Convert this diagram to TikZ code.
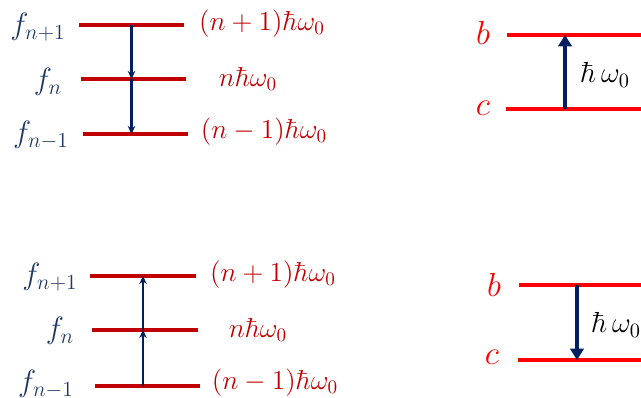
\documentclass[tikz,border=0pt]{standalone}
\usepackage{fix-cm}
\usepackage{xcolor}
\definecolor{rougeNiveau}{HTML}{C00000}
\definecolor{rougeVif}{HTML}{FF0000}
\definecolor{bleuNuit}{HTML}{002060}
\definecolor{bleuEtat}{HTML}{1F3864}
\usepackage{tikz}
\usetikzlibrary{arrows.meta, calc}
\tikzset{
  %% ── Niveaux ──────────────────────────────────────────────────────────
  niveau/.style     = {draw=rougeNiveau, line width=1.8pt},
  niveauVif/.style  = {draw=rougeVif, line width=2.3pt},
  %%
  %% ── Fleches ──────────────────────────────────────────────────────────
  saut/.style       = {-{Stealth[length=1.6mm, width=1.5mm]}, draw=bleuNuit,
                       line width=1.2pt},
  sautFort/.style   = {-{Triangle[length=2.3mm, width=2.7mm]}, draw=bleuNuit,
                       line width=1.9pt},
  %%
  %% ── Textes ───────────────────────────────────────────────────────────
  etat/.style       = {text=bleuEtat, inner sep=0pt,
                       font=\fontsize{17.5}{20}\selectfont},
  energie/.style    = {text=rougeNiveau, inner sep=0pt,
                       font=\fontsize{15.6}{18}\selectfont},
  lettre/.style     = {text=rougeVif, inner sep=0pt,
                       font=\fontsize{19}{22}\selectfont},
  quantum/.style    = {text=black, inner sep=0pt,
                       font=\fontsize{16.5}{19}\selectfont},
}

\begin{document}
\begin{tikzpicture}[x=0.02cm, y=-0.02cm]
\useasboundingbox (0,0) rectangle (641,398);

%% Echelle du haut : emission en cascade.
\foreach \nom/\xa/\xb/\y in {hA/79/184/25, hB/81/186/79, hC/83/188/134}{
  \coordinate (\nom g) at (\xa, \y);
  \coordinate (\nom d) at (\xb, \y);
  \draw[niveau] (\nom g) -- (\nom d);
}
\coordinate (hAm) at ($(hAg)!0.5!(hAd)$);
\coordinate (hBm) at (hAm |- hBg);
\coordinate (hCm) at (hAm |- hCg);
\draw[saut] (hAm) -- (hBm);
\draw[saut] (hBm) -- (hCm);

\node[etat] (fhA) at (38, 27) {$f_{n+1}$};
\node[etat] (fhB) at (48, 82) {$f_n$};
\node[etat] (fhC) at (41, 135) {$f_{n-1}$};
\node[energie] (ehA) at (262, 24) {$(n+1)\hbar\omega_0$};
\node[energie] (ehB) at (248, 79) {$n\hbar\omega_0$};
\node[energie] (ehC) at (264, 132) {$(n-1)\hbar\omega_0$};

%% Echelle du bas : absorption en cascade.
\foreach \nom/\xa/\xb/\y in {bA/90/196/276, bB/92/198/330, bC/95/200/386}{
  \coordinate (\nom g) at (\xa, \y);
  \coordinate (\nom d) at (\xb, \y);
  \draw[niveau] (\nom g) -- (\nom d);
}
\coordinate (bAm) at ($(bAg)!0.5!(bAd)$);
\coordinate (bBm) at (bAm |- bBg);
\coordinate (bCm) at (bAm |- bCg);
\draw[saut] (bCm) -- (bBm);
\draw[saut] (bBm) -- (bAm);

\node[etat] (fbA) at (50, 277) {$f_{n+1}$};
\node[etat] (fbB) at (60, 331) {$f_n$};
\node[etat] (fbC) at (46, 384) {$f_{n-1}$};
\node[energie] (ebA) at (273, 275) {$(n+1)\hbar\omega_0$};
\node[energie] (ebB) at (258, 330) {$n\hbar\omega_0$};
\node[energie] (ebC) at (275, 383) {$(n-1)\hbar\omega_0$};

%% Systeme a deux niveaux, absorption.
\coordinate (hbg) at (507, 35);  \coordinate (hbd) at (641, 35);
\coordinate (hcg) at (506, 109); \coordinate (hcd) at (641, 109);
\draw[niveauVif] (hbg) -- (hbd);
\draw[niveauVif] (hcg) -- (hcd);
\coordinate (hfb) at (565, 35);
\coordinate (hfc) at (565, 109);
\draw[sautFort] (hfc) -- (hfb);
\node[lettre] (lhb) at (483, 33) {$b$};
\node[lettre] (lhc) at (483, 108) {$c$};
\node[quantum] (qh) at (605, 75) {$\hbar\,\omega_0$};

%% Systeme a deux niveaux, emission.
\coordinate (bbg) at (519, 285); \coordinate (bbd) at (641, 285);
\coordinate (bcg) at (518, 360); \coordinate (bcd) at (641, 360);
\draw[niveauVif] (bbg) -- (bbd);
\draw[niveauVif] (bcg) -- (bcd);
\coordinate (bfb) at (577, 285);
\coordinate (bfc) at (577, 360);
\draw[sautFort] (bfb) -- (bfc);
\node[lettre] (lbb) at (494, 285) {$b$};
\node[lettre] (lbc) at (492, 357) {$c$};
\node[quantum] (qb) at (616, 325) {$\hbar\,\omega_0$};

\end{tikzpicture}
\end{document}
